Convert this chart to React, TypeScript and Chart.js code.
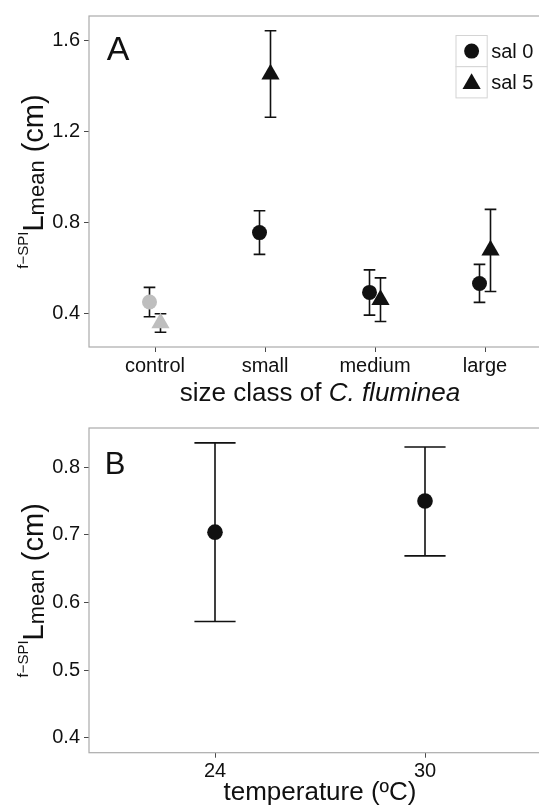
import { useEffect, useRef } from "react";
import { Chart, registerables } from "chart.js";

Chart.register(...registerables);

// Panel A: filter length by clam size class and salinity
const sizeClasses = ["control", "small", "medium", "large"];
const salinityLabels = ["sal 0", "sal 5"];
const sal0Mean = [0.449, 0.754, 0.491, 0.53];
const sal0Lower = [0.384, 0.658, 0.391, 0.447];
const sal0Upper = [0.513, 0.85, 0.59, 0.614];
const sal5Mean = [0.356, 1.45, 0.459, 0.676];
const sal5Lower = [0.316, 1.261, 0.363, 0.495];
const sal5Upper = [0.397, 1.641, 0.555, 0.856];
const sizeYTicks = [0.4, 0.8, 1.2, 1.6];

// Panel B: filter length by temperature
const temperatures = ["24", "30"];
const tempMean = [0.704, 0.75];
const tempLower = [0.572, 0.669];
const tempUpper = [0.836, 0.83];
const tempYTicks = [0.4, 0.5, 0.6, 0.7, 0.8];

const FONT = "'Liberation Sans', Arial, Helvetica, sans-serif";
const INK = "#111111";
const CONTROL_GREY = "#bebebe";
const FRAME_GREY = "#ababab";
const TICK_GREY = "#4a4a4a";
const KEY_GREY = "#d4d4d4";

type TitlePart = { text: string; italic?: boolean };

type PanelDecor = {
  letter: string;
  letterSize: number;
  letterDx: number;
  letterDy: number;
  xTitle: TitlePart[];
  xTitleBaseline: number;
  showLegend: boolean;
};

function drawMarker(ctx: CanvasRenderingContext2D, style: string, x: number, y: number, r: number) {
  ctx.beginPath();
  if (style === "triangle") {
    ctx.moveTo(x, y - r);
    ctx.lineTo(x + Math.sin((2 * Math.PI) / 3) * r, y - Math.cos((2 * Math.PI) / 3) * r);
    ctx.lineTo(x + Math.sin((4 * Math.PI) / 3) * r, y - Math.cos((4 * Math.PI) / 3) * r);
    ctx.closePath();
  } else {
    ctx.arc(x, y, r, 0, Math.PI * 2);
  }
  ctx.fill();
}

function drawYTitle(ctx: CanvasRenderingContext2D, baselineX: number, centerY: number) {
  const parts = [
    { text: "f\u2212SPI", size: 15, dy: -15.5 },
    { text: "L", size: 29, dy: 0 },
    { text: "mean", size: 22, dy: 1 },
    { text: " (cm)", size: 29, dy: 0 },
  ];
  ctx.save();
  ctx.fillStyle = INK;
  ctx.textBaseline = "alphabetic";
  ctx.textAlign = "left";
  const widths = parts.map((p) => {
    ctx.font = `${p.size}px ${FONT}`;
    return ctx.measureText(p.text).width;
  });
  const total = widths.reduce((a, b) => a + b, 0);
  ctx.translate(baselineX, centerY);
  ctx.rotate(-Math.PI / 2);
  let cx = -total / 2;
  parts.forEach((p, i) => {
    ctx.font = `${p.size}px ${FONT}`;
    ctx.fillText(p.text, cx, p.dy);
    cx += widths[i];
  });
  ctx.restore();
}

function drawXTitle(ctx: CanvasRenderingContext2D, parts: TitlePart[], centerX: number, baseline: number) {
  ctx.save();
  ctx.fillStyle = INK;
  ctx.textBaseline = "alphabetic";
  ctx.textAlign = "left";
  const fontOf = (p: TitlePart) => `${p.italic ? "italic " : ""}26px ${FONT}`;
  const widths = parts.map((p) => {
    ctx.font = fontOf(p);
    return ctx.measureText(p.text).width;
  });
  const total = widths.reduce((a, b) => a + b, 0);
  let x = centerX - total / 2;
  parts.forEach((p, i) => {
    ctx.font = fontOf(p);
    ctx.fillText(p.text, x, baseline);
    x += widths[i];
  });
  ctx.restore();
}

const errorBarPlugin = {
  id: "errorBars",
  beforeDatasetsDraw(chart: any) {
    const { ctx, chartArea, scales } = chart;
    const x = scales.x;
    const y = scales.y;
    // panel frame
    ctx.save();
    ctx.strokeStyle = FRAME_GREY;
    ctx.lineWidth = 1.2;
    ctx.strokeRect(chartArea.left, chartArea.top, chartArea.right - chartArea.left, chartArea.bottom - chartArea.top);
    ctx.restore();

    chart.data.datasets.forEach((ds: any, i: number) => {
      const meta = chart.getDatasetMeta(i);
      const half = Math.abs(x.getPixelForValue(ds.capHalfWidth) - x.getPixelForValue(0));
      ctx.save();
      ctx.strokeStyle = INK;
      ctx.lineWidth = 1.6;
      meta.data.forEach((pt: any, j: number) => {
        const yl = y.getPixelForValue(ds.lower[j]);
        const yu = y.getPixelForValue(ds.upper[j]);
        ctx.beginPath();
        ctx.moveTo(pt.x, yu);
        ctx.lineTo(pt.x, yl);
        ctx.moveTo(pt.x - half, yu);
        ctx.lineTo(pt.x + half, yu);
        ctx.moveTo(pt.x - half, yl);
        ctx.lineTo(pt.x + half, yl);
        ctx.stroke();
      });
      ctx.restore();
    });
  },
};

function decorPlugin(decor: PanelDecor) {
  return {
    id: "panelDecor",
    afterDraw(chart: any) {
      const { ctx, chartArea } = chart;
      // panel letter
      ctx.save();
      ctx.fillStyle = INK;
      ctx.font = `${decor.letterSize}px ${FONT}`;
      ctx.textBaseline = "alphabetic";
      ctx.textAlign = "left";
      ctx.fillText(decor.letter, chartArea.left + decor.letterDx, chartArea.top + decor.letterDy);
      ctx.restore();

      drawXTitle(ctx, decor.xTitle, (chartArea.left + chartArea.right) / 2, decor.xTitleBaseline);
      drawYTitle(ctx, 43, (chartArea.top + chartArea.bottom) / 2);

      if (decor.showLegend) {
        const boxLeft = chartArea.left + 367;
        const boxTop = chartArea.top + 19.5;
        const boxSize = 31.2;
        chart.data.datasets.forEach((ds: any, i: number) => {
          const top = boxTop + i * boxSize;
          ctx.save();
          ctx.fillStyle = "#ffffff";
          ctx.fillRect(boxLeft, top, boxSize, boxSize);
          ctx.strokeStyle = KEY_GREY;
          ctx.lineWidth = 1;
          ctx.strokeRect(boxLeft, top, boxSize, boxSize);
          ctx.fillStyle = INK;
          const cy = ds.pointStyle === "triangle" ? top + boxSize / 2 + 1.5 : top + boxSize / 2;
          drawMarker(ctx, ds.pointStyle, boxLeft + boxSize / 2, cy, ds.pointRadius);
          ctx.font = `20px ${FONT}`;
          ctx.textBaseline = "middle";
          ctx.textAlign = "left";
          ctx.fillText(ds.label, boxLeft + boxSize + 4, top + boxSize / 2 + 1);
          ctx.restore();
        });
      }
    },
  };
}

function axisCommon() {
  return {
    grid: { display: true, drawOnChartArea: false, drawTicks: true, tickLength: 5, color: TICK_GREY, lineWidth: 1 },
    border: { display: false },
  };
}

function configA(): any {
  const dodge = 0.05;
  const markerColours = sizeClasses.map((_, i) => (i === 0 ? CONTROL_GREY : INK));
  return {
    type: "scatter",
    data: {
      datasets: [
        {
          label: salinityLabels[0],
          data: sizeClasses.map((_, i) => ({ x: i + 1 - dodge, y: sal0Mean[i] })),
          lower: sal0Lower,
          upper: sal0Upper,
          capHalfWidth: 0.053,
          pointStyle: "circle",
          pointRadius: 7.5,
          pointHoverRadius: 7.5,
          pointBorderWidth: 0,
          pointBackgroundColor: markerColours,
          showLine: false,
        },
        {
          label: salinityLabels[1],
          data: sizeClasses.map((_, i) => ({ x: i + 1 + dodge, y: sal5Mean[i] })),
          lower: sal5Lower,
          upper: sal5Upper,
          capHalfWidth: 0.053,
          pointStyle: "triangle",
          pointRadius: 10.5,
          pointHoverRadius: 10.5,
          pointBorderWidth: 0,
          pointBackgroundColor: markerColours,
          showLine: false,
        },
      ],
    },
    options: {
      responsive: false,
      animation: false,
      devicePixelRatio: 1,
      events: [],
      layout: { padding: { left: 0, top: 15.5, right: 19, bottom: 0 } },
      plugins: { legend: { display: false }, tooltip: { enabled: false } },
      scales: {
        x: {
          type: "linear",
          min: 0.4,
          max: 4.6,
          ...axisCommon(),
          afterBuildTicks: (s: any) => {
            s.ticks = sizeClasses.map((_, i) => ({ value: i + 1 }));
          },
          afterFit: (s: any) => {
            s.height = 65;
          },
          ticks: {
            callback: (v: any) => sizeClasses[Math.round(Number(v)) - 1] ?? "",
            font: { family: FONT, size: 20 },
            color: INK,
            padding: 2,
            maxRotation: 0,
            autoSkip: false,
          },
        },
        y: {
          type: "linear",
          min: 0.251,
          max: 1.706,
          ...axisCommon(),
          afterBuildTicks: (s: any) => {
            s.ticks = sizeYTicks.map((v) => ({ value: v }));
          },
          afterFit: (s: any) => {
            s.width = 89;
          },
          ticks: {
            callback: (v: any) => Number(v).toFixed(1),
            font: { family: FONT, size: 20 },
            color: INK,
            padding: 4,
          },
        },
      },
    },
    plugins: [
      errorBarPlugin,
      decorPlugin({
        letter: "A",
        letterSize: 34,
        letterDx: 17.7,
        letterDy: 43.8,
        xTitle: [{ text: "size class of " }, { text: "C. fluminea", italic: true }],
        xTitleBaseline: 400.5,
        showLegend: true,
      }),
    ],
  };
}

function configB(): any {
  return {
    type: "scatter",
    data: {
      datasets: [
        {
          label: "temperature",
          data: temperatures.map((_, i) => ({ x: i + 1, y: tempMean[i] })),
          lower: tempLower,
          upper: tempUpper,
          capHalfWidth: 0.098,
          pointStyle: "circle",
          pointRadius: 7.8,
          pointHoverRadius: 7.8,
          pointBorderWidth: 0,
          pointBackgroundColor: INK,
          showLine: false,
        },
      ],
    },
    options: {
      responsive: false,
      animation: false,
      devicePixelRatio: 1,
      events: [],
      layout: { padding: { left: 0, top: 9.7, right: 19, bottom: 0 } },
      plugins: { legend: { display: false }, tooltip: { enabled: false } },
      scales: {
        x: {
          type: "linear",
          min: 0.4,
          max: 2.6,
          ...axisCommon(),
          afterBuildTicks: (s: any) => {
            s.ticks = temperatures.map((_, i) => ({ value: i + 1 }));
          },
          afterFit: (s: any) => {
            s.height = 53.3;
          },
          ticks: {
            callback: (v: any) => temperatures[Math.round(Number(v)) - 1] ?? "",
            font: { family: FONT, size: 20 },
            color: INK,
            padding: 2,
            maxRotation: 0,
            autoSkip: false,
          },
        },
        y: {
          type: "linear",
          min: 0.378,
          max: 0.858,
          ...axisCommon(),
          afterBuildTicks: (s: any) => {
            s.ticks = tempYTicks.map((v) => ({ value: v }));
          },
          afterFit: (s: any) => {
            s.width = 89;
          },
          ticks: {
            callback: (v: any) => Number(v).toFixed(1),
            font: { family: FONT, size: 20 },
            color: INK,
            padding: 4,
          },
        },
      },
    },
    plugins: [
      errorBarPlugin,
      decorPlugin({
        letter: "B",
        letterSize: 31,
        letterDx: 15.8,
        letterDy: 45.6,
        xTitle: [{ text: "temperature (\u00baC)" }],
        xTitleBaseline: 388,
        showLegend: false,
      }),
    ],
  };
}

export default function App() {
  const refA = useRef<HTMLCanvasElement>(null);
  const refB = useRef<HTMLCanvasElement>(null);

  useEffect(() => {
    const a = new Chart(refA.current!, configA());
    const b = new Chart(refB.current!, configB());
    return () => {
      a.destroy();
      b.destroy();
    };
  }, []);

  return (
    <div
      style={{
        position: "absolute",
        left: 0,
        top: 0,
        width: 539,
        height: 806,
        overflow: "hidden",
        background: "#ffffff",
      }}
    >
      <canvas ref={refA} width={570} height={412} style={{ position: "absolute", left: 0, top: 0 }} />
      <canvas ref={refB} width={570} height={394} style={{ position: "absolute", left: 0, top: 412 }} />
    </div>
  );
}
